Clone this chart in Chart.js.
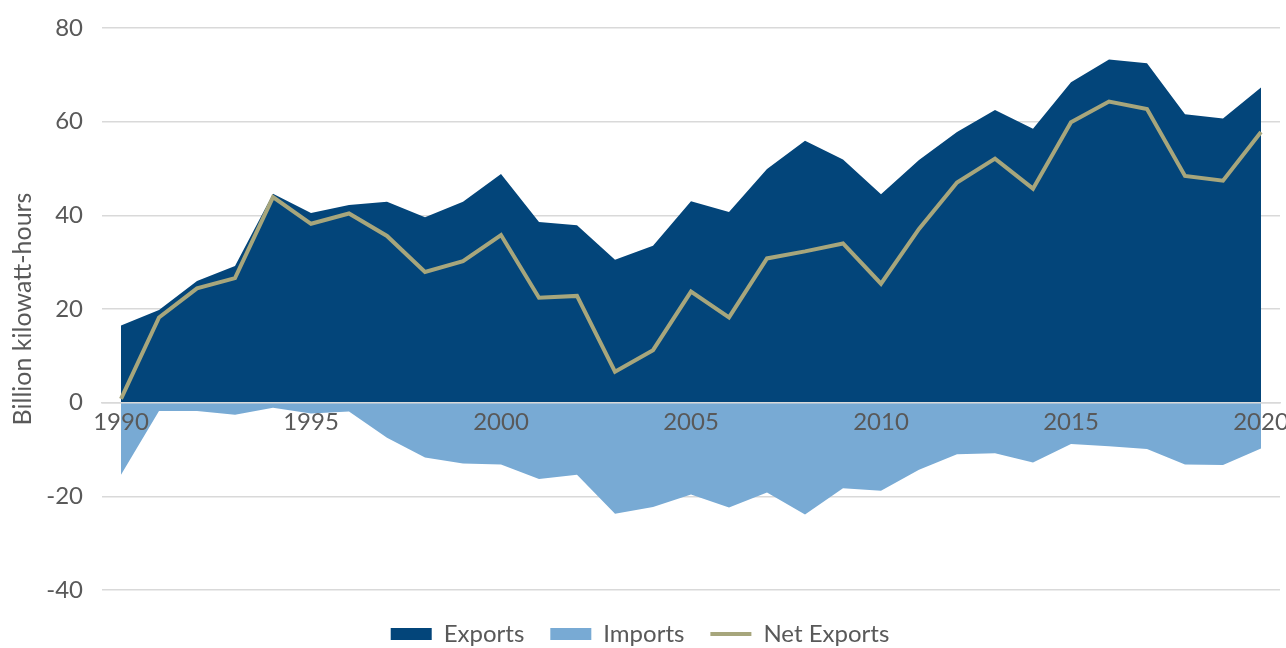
<!DOCTYPE html>
<html>
<head>
<meta charset="utf-8">
<script src="https://cdn.jsdelivr.net/npm/chart.js@4.4.0/dist/chart.umd.min.js"></script>
<style>
  html, body { margin: 0; padding: 0; background: #fff; }
  #wrap { width: 1286px; height: 648px; }
</style>
</head>
<body>
<div id="wrap"><canvas id="grafica"></canvas></div>
<script>
const years = [1990, 1991, 1992, 1993, 1994, 1995, 1996, 1997, 1998, 1999,
  2000, 2001, 2002, 2003, 2004, 2005, 2006, 2007, 2008, 2009,
  2010, 2011, 2012, 2013, 2014, 2015, 2016, 2017, 2018, 2019, 2020];
const exportsData = [16.5, 19.8, 26.0, 29.2, 44.6, 40.5, 42.2, 42.9, 39.6, 42.9,
  48.8, 38.6, 37.9, 30.5, 33.5, 43.0, 40.7, 49.9, 55.9, 51.9,
  44.5, 51.8, 57.8, 62.5, 58.5, 68.4, 73.3, 72.5, 61.6, 60.7, 67.3];
const importsData = [-15.4, -1.8, -1.8, -2.6, -1.1, -2.3, -1.9, -7.5, -11.7, -13.0,
  -13.2, -16.3, -15.4, -23.7, -22.3, -19.6, -22.4, -19.2, -23.9, -18.3,
  -18.8, -14.3, -11.0, -10.8, -12.8, -8.8, -9.3, -9.9, -13.2, -13.3, -9.8];
const netData = [0.8, 18.2, 24.4, 26.6, 43.9, 38.2, 40.4, 35.6, 27.9, 30.2,
  35.8, 22.4, 22.8, 6.6, 11.2, 23.7, 18.2, 30.8, 32.3, 34.0,
  25.4, 37.1, 47.0, 52.1, 45.7, 59.9, 64.3, 62.7, 48.4, 47.4, 57.8];
const xTicks = [1990, 1995, 2000, 2005, 2010, 2015, 2020];
const yTicks = [-40, -20, 0, 20, 40, 60, 80];

const pares = serie => serie.map((v, i) => ({ x: years[i], y: v }));

const fuente = "Lato, 'Open Sans', sans-serif";
const gris = '#595959';

// fixed legend height, then nudge it down a little so the text sits low
const ajusteLeyenda = {
  id: 'ajusteLeyenda',
  beforeInit(chart) {
    const fit = chart.legend.fit;
    chart.legend.fit = function () {
      fit.call(this);
      this.height = 52;
    };
  },
  afterLayout(chart) {
    chart.legend.top += 6;
    chart.legend.bottom += 6;
  }
};

new Chart(document.getElementById('grafica'), {
  type: 'line',
  data: {
    datasets: [
      {
        label: 'Exports',
        data: pares(exportsData),
        backgroundColor: '#03457a',
        borderColor: '#03457a',
        borderWidth: 0,
        pointRadius: 0,
        pointStyle: 'rect',
        fill: 'origin',
        order: 2
      },
      {
        label: 'Imports',
        data: pares(importsData),
        backgroundColor: '#78aad4',
        borderColor: '#78aad4',
        borderWidth: 0,
        pointRadius: 0,
        pointStyle: 'rect',
        fill: 'origin',
        order: 3
      },
      {
        label: 'Net Exports',
        data: pares(netData),
        borderColor: '#a7a67c',
        backgroundColor: '#a7a67c',
        borderWidth: 4,
        pointRadius: 0,
        pointStyle: 'line',
        fill: false,
        order: 1
      }
    ]
  },
  options: {
    responsive: true,
    maintainAspectRatio: false,
    animation: false,
    layout: { padding: { top: 28, right: 6, bottom: 6, left: 0 } },
    plugins: {
      tooltip: { enabled: false },
      legend: {
        position: 'bottom',
        labels: {
          usePointStyle: true,
          pointStyleWidth: 41,
          boxHeight: 12,
          padding: 26,
          color: gris,
          font: { family: fuente, size: 24 },
          sort: (a, b) => a.datasetIndex - b.datasetIndex,
          generateLabels(chart) {
            const items = Chart.defaults.plugins.legend.labels.generateLabels(chart);
            items.forEach(it => {
              const ds = chart.data.datasets[it.datasetIndex];
              if (ds.pointStyle === 'line') {
                it.strokeStyle = ds.borderColor;
                it.lineWidth = 4;
              } else {
                it.lineWidth = 0;
                it.strokeStyle = 'rgba(0,0,0,0)';
              }
            });
            return items;
          }
        }
      }
    },
    scales: {
      x: {
        type: 'linear',
        min: 1989.5,
        max: 2020.5,
        position: { y: 0 },
        afterBuildTicks: scale => { scale.ticks = xTicks.map(v => ({ value: v })); },
        // axis sits on the zero line, so it should not take any layout room
        afterFit: scale => {
          scale.height = 0;
          scale.paddingLeft = 0;
          scale.paddingRight = 0;
        },
        grid: { display: false, drawTicks: false },
        border: { display: true, color: '#d9d9d9', width: 1.5, z: 1 },
        ticks: {
          z: 1,
          autoSkip: false,
          maxRotation: 0,
          padding: 5,
          color: gris,
          font: { family: fuente, size: 24 },
          callback: v => String(v)
        }
      },
      y: {
        min: -40,
        max: 80,
        afterBuildTicks: scale => { scale.ticks = yTicks.map(v => ({ value: v })); },
        afterFit: scale => {
          scale.width = 102;
          scale.paddingTop = 0;
          scale.paddingBottom = 0;
        },
        grid: { color: '#d9d9d9', lineWidth: 1.5, drawTicks: false },
        border: { display: false },
        title: {
          display: true,
          text: 'Billion kilowatt-hours',
          color: gris,
          font: { family: fuente, size: 25 },
          padding: { top: 8, bottom: 0 }
        },
        ticks: {
          padding: 19,
          color: gris,
          font: { family: fuente, size: 24 }
        }
      }
    }
  },
  plugins: [ajusteLeyenda]
});
</script>
</body>
</html>
